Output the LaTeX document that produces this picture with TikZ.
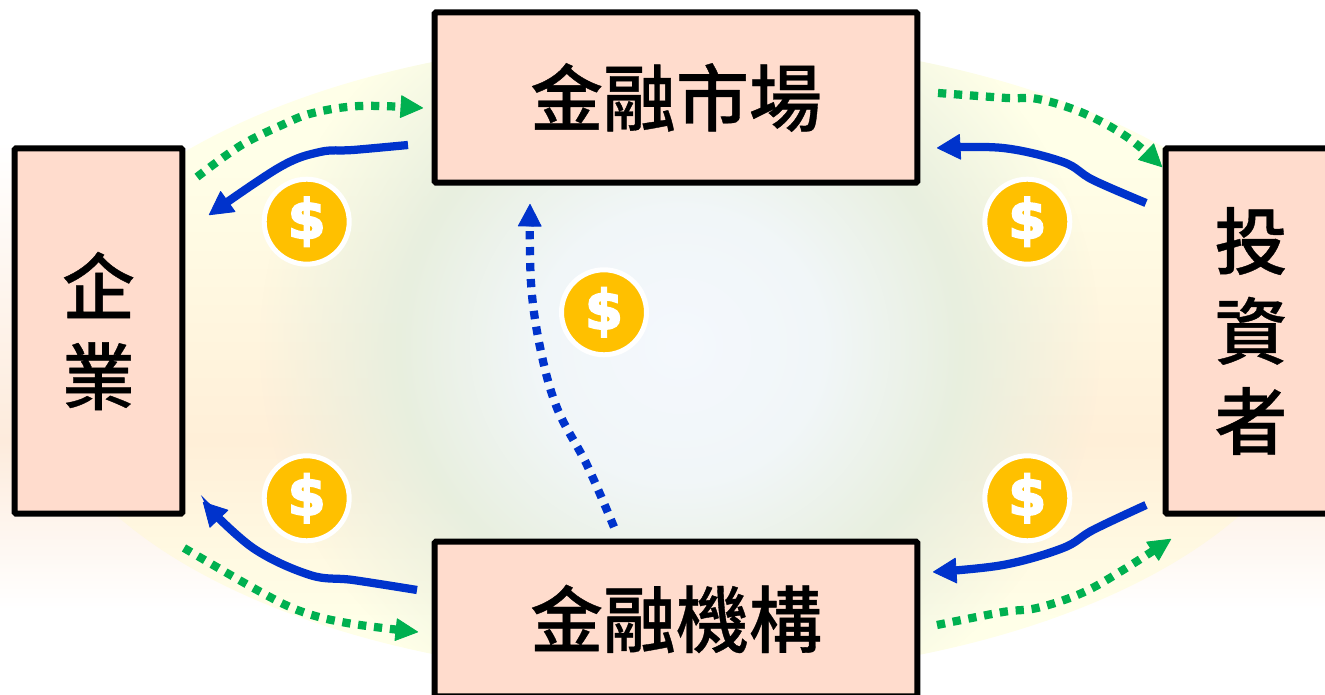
\documentclass[tikz,border=0pt]{standalone}
\usepackage{fontspec}
\setmainfont{Noto Sans CJK TC}[BoldFont=Noto Sans CJK TC Medium,BoldFeatures={FakeBold=0.5}]
\newfontfamily\coinfont{DejaVu Sans}[UprightFont=* Bold,FakeBold=3.5]
\usetikzlibrary{arrows.meta,fadings}
\definecolor{boxfill}{HTML}{FFDCCD}
\definecolor{flowgreen}{HTML}{00B050}
\definecolor{flowblue}{HTML}{0033CC}
\definecolor{coingold}{HTML}{FFC000}
\definecolor{bandpeach}{HTML}{FDEBDC}
\definecolor{ovalpeach}{HTML}{FFEFD8}
\definecolor{ovalyellow}{HTML}{FFFFE8}
\pgfdeclareverticalshading{outerband}{100bp}{color(0bp)=(white); color(25bp)=(white); color(43bp)=(bandpeach); color(75bp)=(white); color(100bp)=(white)}
\pgfdeclareverticalshading{ovalband}{100bp}{color(0bp)=(ovalyellow); color(25bp)=(ovalyellow); color(44bp)=(ovalpeach); color(75bp)=(ovalyellow); color(100bp)=(ovalyellow)}
\definecolor{coreblue}{HTML}{F4F8FD}
\definecolor{corepale}{HTML}{F1F6F8}
\definecolor{coregreen}{HTML}{E8EFDF}
\pgfdeclareradialshading{coreglow}{\pgfpointorigin}{color(0bp)=(coreblue); color(8.5bp)=(corepale); color(16.5bp)=(coregreen); color(50bp)=(coregreen)}
\pgfdeclareradialshading{corealpha}{\pgfpointorigin}{color(0bp)=(pgftransparent!0); color(16.5bp)=(pgftransparent!0); color(25bp)=(pgftransparent!100); color(50bp)=(pgftransparent!100)}
\pgfdeclarefading{corefade}{\pgfuseshading{corealpha}}
\tikzset{
  block/.style={draw=black,fill=boxfill,line width=0.12cm,rounded corners=0.03cm,inner sep=0pt,
    font=\fontsize{41.5}{51.2}\selectfont\bfseries,align=center},
  coin/.style={circle,draw=white,fill=coingold,line width=0.1cm,minimum size=1.7cm,inner sep=0pt,
    text=white,font=\coinfont\fontsize{31}{31}\selectfont},
  greenflow/.style={draw=flowgreen,line width=0.165cm,dash pattern=on 0.165cm off 0.155cm,
    -{Triangle[length=0.46cm,width=0.46cm,line width=0.5pt,round]}},
  blueflow/.style={draw=flowblue,line width=0.165cm,-{Triangle[length=0.48cm,width=0.52cm,line width=0.5pt,round]}},
  bluedots/.style={draw=flowblue,line width=0.165cm,dash pattern=on 0.165cm off 0.155cm,
    -{Triangle[length=0.46cm,width=0.48cm,line width=0.5pt,round]}}
}
\begin{document}
\begin{tikzpicture}[x=0.02cm,y=-0.02cm]
      \useasboundingbox (0,0) rectangle (1325,695);
      \shade[shading=outerband] (0,140) rectangle (1325,610);
      \begin{scope}
        \clip (678,358) ellipse [x radius=645,y radius=320];
        \shade[shading=ovalband] (0,150) rectangle (1325,620);
        \fill[ovalyellow] (0,30) rectangle (1325,150);
        \fill[ovalyellow] (0,620) rectangle (1325,695);
        \path[shade,shading=coreglow,path fading=corefade] (680,345) ellipse [x radius=420,y radius=400];
      \end{scope}
      \path
        (197,177) coordinate (ga0) (240,146) coordinate (ga1) (282,125) coordinate (ga2)
        (313,113) coordinate (ga3) (360,106) coordinate (ga4) (423,108) coordinate (ga5)
        (408,145) coordinate (ba0) (353,150) coordinate (ba1) (320,152) coordinate (ba2)
        (280,167) coordinate (ba3) (209,215) coordinate (ba4)
        (184,548) coordinate (gb0) (257,590) coordinate (gb1) (300,611) coordinate (gb2)
        (347,623) coordinate (gb3) (418,632) coordinate (gb4)
        (417,590) coordinate (bb0) (353,580) coordinate (bb1) (310,575) coordinate (bb2)
        (253,548) coordinate (bb3) (203,502) coordinate (bb4)
        (938,93) coordinate (gc0) (1007,98) coordinate (gc1) (1038,99) coordinate (gc2)
        (1083,113) coordinate (gc3) (1127,137) coordinate (gc4) (1162,167) coordinate (gc5)
        (1146,203) coordinate (bc0) (1093,180) coordinate (bc1) (1063,162) coordinate (bc2)
        (1003,148) coordinate (bc3) (937,148) coordinate (bc4)
        (937,625) coordinate (gd0) (1003,612) coordinate (gd1) (1037,608) coordinate (gd2)
        (1082,593) coordinate (gd3) (1123,570) coordinate (gd4) (1171,539) coordinate (gd5)
        (1146,505) coordinate (bd0) (1093,530) coordinate (bd1) (1063,548) coordinate (bd2)
        (1003,565) coordinate (bd3) (933,572) coordinate (bd4)
        (614,527) coordinate (be0) (587,465) coordinate (be1) (557,408) coordinate (be2)
        (540,347) coordinate (be3) (531,283) coordinate (be4) (530,204) coordinate (be5);
      \draw
        (676,97.5) node[block,minimum width=9.66cm,minimum height=3.41cm] (market){金融市場}
        (676,619) node[block,minimum width=9.66cm,minimum height=3.1cm] (bank){金融機構}
        (98.5,331) node[block,minimum width=3.36cm,minimum height=7.31cm] (firm){企\\業}
        (1251,331) node[block,minimum width=3.42cm,minimum height=7.31cm] (investor){投\\資\\者};
      \draw
        (306.7,221.7) node[coin] (coinA){\$}
        (306.7,498.3) node[coin] (coinB){\$}
        (1027.3,221.7) node[coin] (coinC){\$}
        (1027.3,498.3) node[coin] (coinD){\$}
        (604,312.3) node[coin] (coinE){\$};
      \begin{scope}
        \draw[greenflow] plot[smooth,tension=0.6] coordinates {(ga0) (ga1) (ga2) (ga3) (ga4) (ga5)};
        \draw[blueflow] plot[smooth,tension=0.6] coordinates {(ba0) (ba1) (ba2) (ba3) (ba4)};
        \draw[greenflow] plot[smooth,tension=0.6] coordinates {(gb0) (gb1) (gb2) (gb3) (gb4)};
        \draw[blueflow] plot[smooth,tension=0.6] coordinates {(bb0) (bb1) (bb2) (bb3) (bb4)};
        \draw[greenflow] plot[smooth,tension=0.6] coordinates {(gc0) (gc1) (gc2) (gc3) (gc4) (gc5)};
        \draw[blueflow] plot[smooth,tension=0.6] coordinates {(bc0) (bc1) (bc2) (bc3) (bc4)};
        \draw[greenflow] plot[smooth,tension=0.6] coordinates {(gd0) (gd1) (gd2) (gd3) (gd4) (gd5)};
        \draw[blueflow] plot[smooth,tension=0.6] coordinates {(bd0) (bd1) (bd2) (bd3) (bd4)};
        \draw[bluedots] plot[smooth,tension=0.6] coordinates {(be0) (be1) (be2) (be3) (be4) (be5)};
      \end{scope}
    \end{tikzpicture}
\end{document}
